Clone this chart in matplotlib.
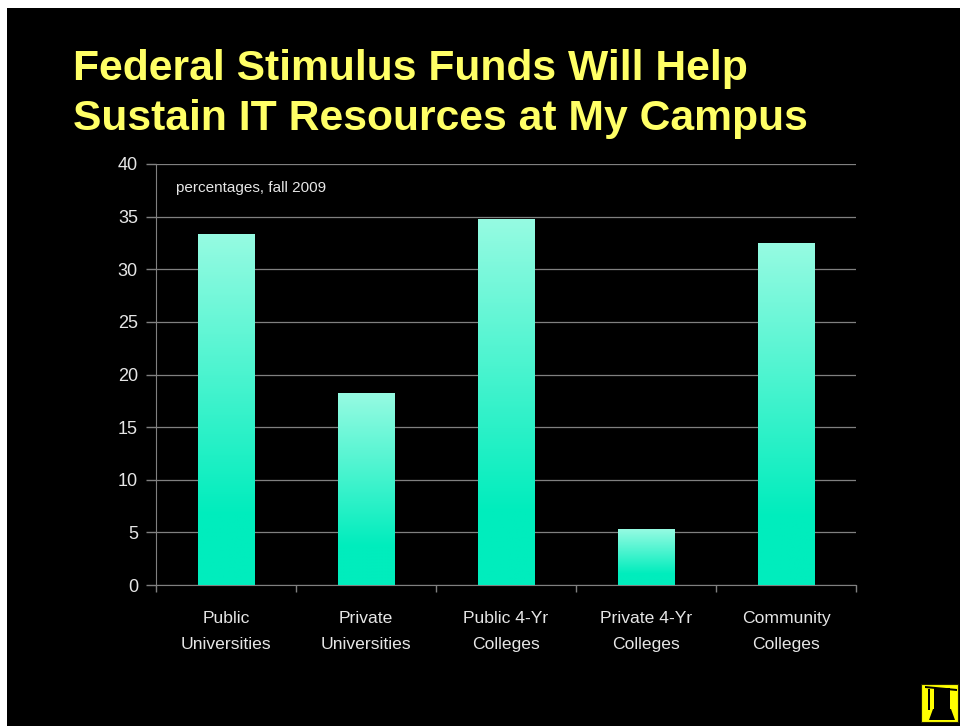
import numpy as np
import matplotlib
matplotlib.use('Agg')
import matplotlib.pyplot as plt
from matplotlib.colors import LinearSegmentedColormap
from matplotlib.patches import Rectangle, Polygon

categories = ['Public\nUniversities', 'Private\nUniversities', 'Public 4-Yr\nColleges',
              'Private 4-Yr\nColleges', 'Community\nColleges']
values = [33.3, 18.2, 34.7, 5.3, 32.4]
y_ticks = [0, 5, 10, 15, 20, 25, 30, 35, 40]
title = 'Federal Stimulus Funds Will Help\nSustain IT Resources at My Campus'
note = 'percentages, fall 2009'

plt.rcParams['font.family'] = ['Liberation Sans', 'DejaVu Sans']

W, H = 960, 726
fig = plt.figure(figsize=(W/100, H/100), dpi=100, facecolor='white')

# black slide with the white strip at top and left
fig.patches.append(Rectangle((7/W, 0), 1, 1-8/H, transform=fig.transFigure, fc='black', ec='none', zorder=-5))

ax = fig.add_axes([156/W, 1-585/H, 700/W, 421/H], facecolor='black')

grad = LinearSegmentedColormap.from_list('g', [(0, '#00edbd'), (0.2, '#00edbd'), (1, '#96fbe2')])
for i, v in enumerate(values):
    ax.imshow(np.linspace(1, 0, 256).reshape(-1, 1), cmap=grad, vmin=0, vmax=1, aspect='auto',
              extent=(i+0.3, i+0.705, 0, v), zorder=3)
ax.set_xlim(0, 5)
ax.set_ylim(0, 40)

ax.set_yticks(y_ticks)
ax.set_xticks(np.arange(6))
ax.set_xticks(np.arange(5)+0.5, categories, minor=True)
ax.set_xticklabels([])
ax.tick_params(axis='x', which='major', length=5, width=1, color='#808080')
ax.tick_params(axis='x', which='minor', length=0, pad=19, labelsize=12.6, labelcolor='#e6e6e6')
ax.tick_params(axis='y', length=7, width=1, color='#808080', labelsize=13, labelcolor='#e6e6e6', pad=6)
for lab in ax.get_xticklabels(minor=True):
    lab.set_linespacing(1.85)
ax.grid(axis='y', color='#808080', lw=0.9)
ax.set_axisbelow(True)
for s in ['top', 'right']:
    ax.spines[s].set_visible(False)
for s in ['left', 'bottom']:
    ax.spines[s].set_color('#808080')

fig.text(176/W, 1-188/H, note, color='#e6e6e6', fontsize=11, va='center', ha='left')
fig.text(73/W, 1-94/H, title, color='#ffff66', fontsize=30.7, fontweight='bold', va='center', ha='left',
         linespacing=1.34)

# campus logo, bottom right
fig.patches.append(Rectangle((921/W, 1-722/H), 37/W, 38/H, transform=fig.transFigure, fc='#ffff00', ec='#222200', lw=0.8, zorder=5))
fig.patches.append(Polygon([(925/W, 1-686/H), (957/W, 1-689/H), (957/W, 1-691/H), (925/W, 1-688/H)],
                           transform=fig.transFigure, fc='black', ec='none', zorder=6))
fig.patches.append(Rectangle((928/W, 1-710/H), 1.5/W, 21/H, transform=fig.transFigure, fc='black', ec='none', zorder=6))
fig.patches.append(Rectangle((934/W, 1-709/H), 16/W, 21/H, transform=fig.transFigure, fc='black', ec='none', zorder=6))
fig.patches.append(Polygon([(929/W, 1-720/H), (955/W, 1-720/H), (951/W, 1-709/H), (933/W, 1-709/H)],
                           transform=fig.transFigure, fc='black', ec='none', zorder=6))

fig.savefig('out.png', dpi=100, facecolor=fig.get_facecolor())
